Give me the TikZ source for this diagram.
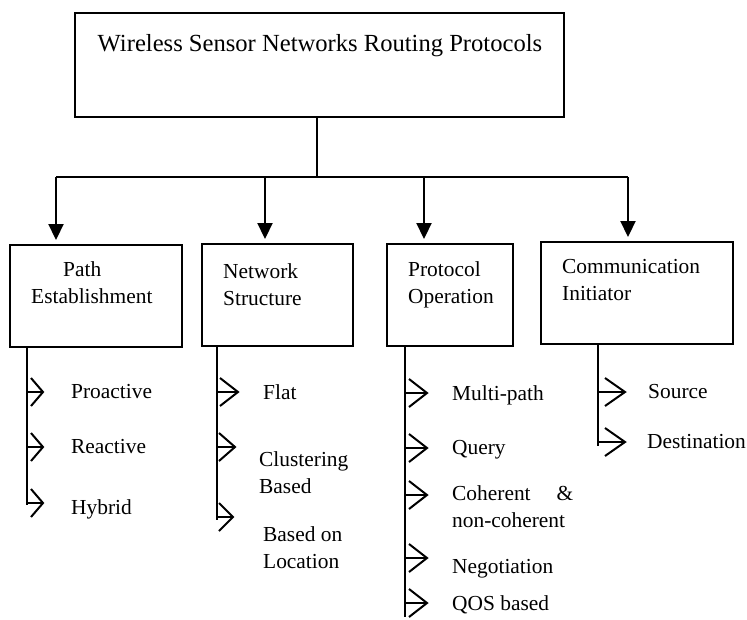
\documentclass[tikz,border=0pt]{standalone}
\usepackage{fontspec}
\setmainfont{Liberation Serif}
\usetikzlibrary{arrows.meta}
\begin{document}
\begin{tikzpicture}[x=1pt,y=-1pt,
  box/.style={draw, line width=1.3pt, inner sep=0pt, outer sep=0pt},
  boxtext/.style={anchor=north west, inner sep=0pt, align=left, font=\fontsize{21.4}{27}\selectfont},
  titletext/.style={anchor=north, inner sep=0pt, font=\fontsize{24.6}{30}\selectfont},
  bigline/.style={line width=2.2pt},
  bigarrow/.style={line width=2.2pt, -{Triangle[length=16pt,width=15pt]}, shorten >=5pt},
  trunk/.style={line width=1.5pt},
  subline/.style={line width=1.6pt},
  chevron/.style={line width=2pt, line join=miter}]
\useasboundingbox (0,0) rectangle (747,619);

% boxes
\node[box, minimum width=489pt, minimum height=104pt] (root) at (319.5,65) {};
\node[box, minimum width=172pt, minimum height=102pt] (pe) at (96,296) {};
\node[box, minimum width=151pt, minimum height=102pt] (ns) at (277.5,295) {};
\node[box, minimum width=126pt, minimum height=102pt] (po) at (450,295) {};
\node[box, minimum width=192pt, minimum height=102pt] (ci) at (637,293) {};

% box texts
\node[titletext] (roott) at (320,34.5) {Wireless Sensor Networks Routing Protocols};
\node[boxtext] (pet) at (31,261.4) {\hspace*{32pt}Path\\Establishment};
\node[boxtext] (nst) at (223,263.4) {Network\\Structure};
\node[boxtext] (pot) at (408,261.4) {Protocol\\Operation};
\node[boxtext] (cit) at (562,259.4) {Communication\\Initiator};

% top tree
\coordinate (hub) at (317,177);
\coordinate (b1) at (56,177);
\coordinate (b2) at (265,177);
\coordinate (b3) at (424,177);
\coordinate (b4) at (628,177);
\draw[bigline] (root.south -| hub) -- (hub);
\draw[bigline] (b1) -- (b4);
\draw[bigarrow] (b1) -- (b1 |- pe.north);
\draw[bigarrow] (b2) -- (b2 |- ns.north);
\draw[bigarrow] (b3) -- (b3 |- po.north);
\draw[bigarrow] (b4) -- (b4 |- ci.north);

% trunks
\coordinate (peend) at (27,505);
\coordinate (nsend) at (217,520);
\coordinate (poend) at (405,617);
\coordinate (ciend) at (598,446);
\draw[trunk] (pe.south -| peend) -- (peend);
\draw[trunk] (ns.south -| nsend) -- (nsend);
\draw[trunk] (po.south -| poend) -- (poend);
\draw[trunk] (ci.south -| ciend) -- (ciend);

% sub arrows (open chevrons)
\foreach \n/\tx/\px/\y/\l in {pa/27/43/392/12, pb/27/43/447/12, pc/27/43/503/12,
  na/217/238/392/18, nb/217/235/447/16, nc/217/233/517/14,
  oa/405/427/393/18, ob/405/427/448/18, oc/405/427/495/18, od/405/427/558/18, oe/405/427/603/18,
  ca/598/625/392/20, cb/598/625/442/20}{
  \coordinate (\n s) at (\tx,\y);
  \coordinate (\n t) at (\px,\y);
  \draw[subline] (\n s) -- (\n t);
  \draw[chevron] (\n t) ++(-\l,-14) -- (\n t) -- ++(-\l,14);
}

% item labels
\node[boxtext] (l1) at (71,384.4) {Proactive};
\node[boxtext] (l2) at (71,439.4) {Reactive};
\node[boxtext] (l3) at (71,499.4) {Hybrid};
\node[boxtext] (l4) at (263,384.4) {Flat};
\node[boxtext] (l5) at (259,451.4) {Clustering\\Based};
\node[boxtext] (l6) at (263,526.4) {Based on\\Location};
\node[boxtext] (l7) at (452,385.4) {Multi-path};
\node[boxtext] (l8) at (452,440.4) {Query};
\node[boxtext] (l9) at (452,485.4) {\makebox[121pt][l]{Coherent\hfill\&}\\non-coherent};
\node[boxtext] (l10) at (452,559.4) {Negotiation};
\node[boxtext] (l11) at (452,595.4) {QOS based};
\node[boxtext] (l12) at (648,384.4) {Source};
\node[boxtext] (l13) at (647,434.4) {Destination};
\end{tikzpicture}
\end{document}
